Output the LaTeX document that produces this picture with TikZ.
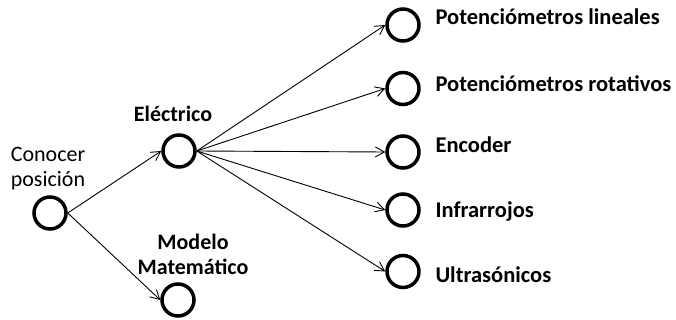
\documentclass[tikz,border=0pt]{standalone}
\usepackage{fontspec}
\setmainfont{Carlito}
\usetikzlibrary{arrows.meta}

\tikzset{
  estado/.style={circle, draw, line width=3.5pt, minimum size=32pt, inner sep=0pt},
  flecha/.style={-{Straight Barb[length=9pt,width=10pt]}, line width=0.9pt},
  texto/.style={font=\fontsize{22}{25}\selectfont, align=center, anchor=base},
  negrita/.style={texto, font=\fontsize{22}{25}\selectfont\bfseries},
  etiqueta/.style={font=\fontsize{22.5}{25}\selectfont\bfseries, anchor=base west},
}

\begin{document}
\begin{tikzpicture}[x=1pt, y=-1pt]
	\useasboundingbox (0,0) rectangle (676,320);

	% raiz y primer nivel
	\node[estado] (raiz) at (50,213) {};
	\node[texto] (raiztxt) at (48,187) {Conocer\\posición};

	\node[estado] (electrico) at (179,151) {};
	\node[negrita] (electricotxt) at (173,122) {Eléctrico};

	\node[estado] (modelo) at (178,300) {};
	\node[negrita] (modelotxt) at (193,274) {Modelo\\Matemático};

	\draw[flecha] (raiz.east) -- (electrico.west);
	\draw[flecha] (raiz.east) -- (modelo.west);

	% sensores electricos
	\node[estado] (pot1) at (403,25) {};
	\node[estado] (pot2) at (403,88.5) {};
	\node[estado] (enc) at (403,152) {};
	\node[estado] (ir) at (403,210) {};
	\node[estado] (us) at (403,271.5) {};

	\node[etiqueta] (pot1txt) at (432,25) {Potenciómetros lineales};
	\node[etiqueta] (pot2txt) at (432,92) {Potenciómetros rotativos};
	\node[etiqueta] (enctxt) at (432,153) {Encoder};
	\node[etiqueta] (irtxt) at (432,218) {Infrarrojos};
	\node[etiqueta] (ustxt) at (432,282) {Ultrasónicos};

	\foreach \s in {pot1, pot2, enc, ir, us}
		\draw[flecha] (electrico.east) -- (\s.west);
\end{tikzpicture}
\end{document}
